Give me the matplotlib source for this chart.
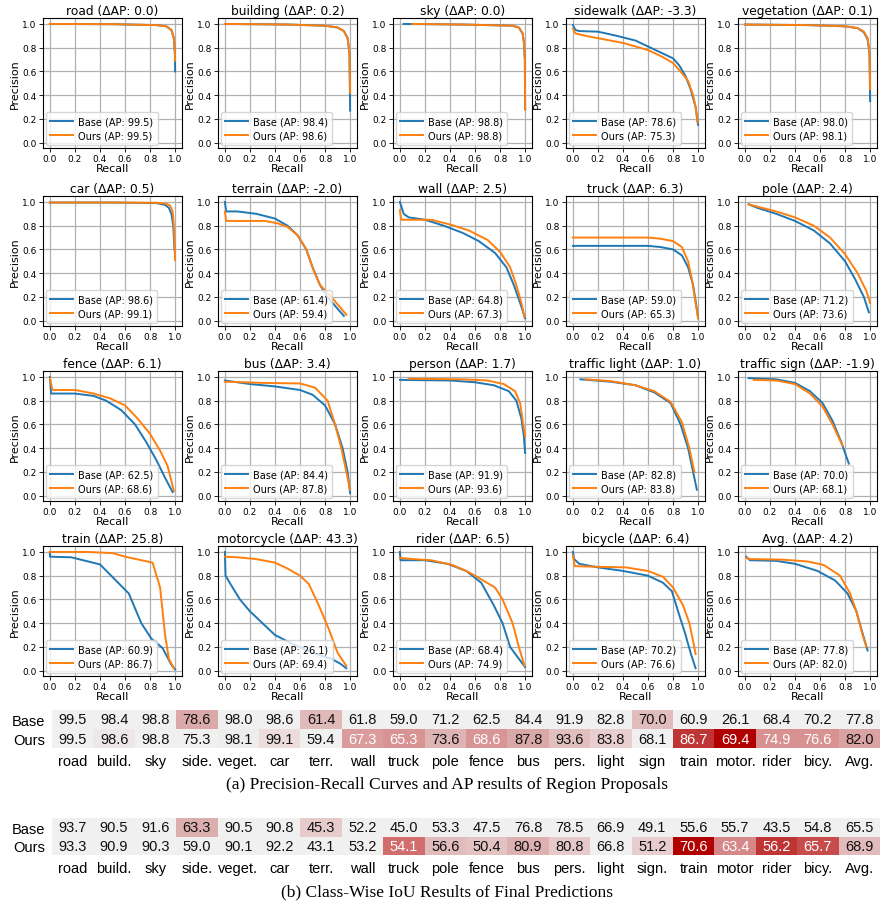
import numpy as np
import matplotlib
matplotlib.use("Agg")
import matplotlib.pyplot as plt
from matplotlib.colors import LinearSegmentedColormap

# ---- PR curves: (recall, precision) pairs ----
road_base = [(0, 1.0), (0.5, 0.998), (0.85, 0.99), (0.93, 0.98), (0.97, 0.95), (0.99, 0.88), (0.998, 0.75), (1.0, 0.6)]
road_ours = [(0, 1.0), (0.5, 0.998), (0.85, 0.99), (0.93, 0.98), (0.97, 0.95), (0.99, 0.88), (0.998, 0.77), (1.0, 0.69)]
building_base = [(0, 1.0), (0.5, 0.995), (0.8, 0.985), (0.9, 0.97), (0.95, 0.94), (0.98, 0.88), (0.995, 0.75), (1.0, 0.27)]
building_ours = [(0, 1.0), (0.5, 0.995), (0.8, 0.985), (0.9, 0.97), (0.95, 0.94), (0.98, 0.88), (0.995, 0.75), (1.0, 0.42)]
sky_base = [(0.03, 1.0), (0.5, 0.995), (0.9, 0.985), (0.95, 0.97), (0.98, 0.92), (0.99, 0.85), (0.998, 0.7), (1.0, 0.28)]
sky_ours = [(0.1, 1.0), (0.5, 0.995), (0.9, 0.985), (0.95, 0.97), (0.98, 0.92), (0.99, 0.85), (0.998, 0.7), (1.0, 0.28)]
sidewalk_base = [(0, 0.99), (0.02, 0.95), (0.05, 0.94), (0.2, 0.935), (0.35, 0.9), (0.5, 0.86), (0.6, 0.81), (0.7, 0.76), (0.8, 0.71), (0.85, 0.65), (0.9, 0.56), (0.94, 0.45), (0.98, 0.3), (1.0, 0.15)]
sidewalk_ours = [(0, 0.96), (0.02, 0.92), (0.1, 0.9), (0.2, 0.88), (0.4, 0.84), (0.6, 0.78), (0.72, 0.72), (0.8, 0.67), (0.86, 0.6), (0.92, 0.52), (0.96, 0.4), (0.98, 0.3), (0.995, 0.17)]
vegetation_base = [(0, 0.995), (0.5, 0.99), (0.8, 0.98), (0.9, 0.965), (0.95, 0.93), (0.98, 0.87), (0.995, 0.75), (1.0, 0.35)]
vegetation_ours = [(0, 0.995), (0.5, 0.99), (0.8, 0.98), (0.9, 0.965), (0.95, 0.935), (0.98, 0.88), (0.995, 0.76), (1.0, 0.45)]
car_base = [(0, 0.995), (0.5, 0.995), (0.85, 0.99), (0.92, 0.975), (0.95, 0.95), (0.97, 0.9), (0.985, 0.8), (0.995, 0.6)]
car_ours = [(0, 0.995), (0.5, 0.995), (0.85, 0.993), (0.93, 0.985), (0.96, 0.97), (0.98, 0.92), (0.99, 0.8), (1.0, 0.51)]
terrain_base = [(0, 1.0), (0.01, 0.92), (0.1, 0.92), (0.25, 0.9), (0.4, 0.86), (0.5, 0.8), (0.58, 0.72), (0.65, 0.6), (0.7, 0.45), (0.76, 0.3), (0.82, 0.2), (0.9, 0.1), (0.95, 0.04)]
terrain_ours = [(0, 0.92), (0.01, 0.84), (0.32, 0.84), (0.42, 0.82), (0.5, 0.79), (0.58, 0.72), (0.65, 0.6), (0.71, 0.42), (0.76, 0.3), (0.85, 0.2), (0.93, 0.1), (0.97, 0.05)]
wall_base = [(0, 1.0), (0.03, 0.9), (0.07, 0.87), (0.2, 0.85), (0.35, 0.8), (0.5, 0.74), (0.63, 0.67), (0.76, 0.57), (0.85, 0.45), (0.91, 0.3), (0.96, 0.15), (1.0, 0.02)]
wall_ours = [(0, 0.93), (0.01, 0.85), (0.25, 0.85), (0.4, 0.81), (0.55, 0.76), (0.7, 0.68), (0.8, 0.58), (0.88, 0.45), (0.93, 0.3), (0.97, 0.15), (0.995, 0.03)]
truck_base = [(0, 0.63), (0.6, 0.63), (0.7, 0.62), (0.8, 0.6), (0.87, 0.55), (0.92, 0.45), (0.96, 0.3), (0.99, 0.1), (1.0, 0.02)]
truck_ours = [(0, 0.7), (0.6, 0.7), (0.7, 0.69), (0.8, 0.67), (0.87, 0.62), (0.92, 0.5), (0.95, 0.35), (0.98, 0.15), (1.0, 0.02)]
pole_base = [(0.03, 0.98), (0.1, 0.95), (0.25, 0.9), (0.4, 0.84), (0.55, 0.76), (0.68, 0.65), (0.8, 0.5), (0.88, 0.35), (0.95, 0.2), (0.99, 0.07)]
pole_ours = [(0.03, 0.98), (0.1, 0.96), (0.25, 0.92), (0.4, 0.87), (0.55, 0.8), (0.68, 0.7), (0.8, 0.56), (0.9, 0.4), (0.97, 0.25), (1.0, 0.15)]
fence_base = [(0, 1.0), (0.01, 0.86), (0.2, 0.86), (0.35, 0.84), (0.45, 0.8), (0.57, 0.72), (0.68, 0.6), (0.77, 0.45), (0.85, 0.3), (0.92, 0.15), (0.98, 0.03)]
fence_ours = [(0, 0.99), (0.02, 0.89), (0.2, 0.89), (0.35, 0.86), (0.48, 0.82), (0.6, 0.76), (0.7, 0.65), (0.8, 0.52), (0.88, 0.38), (0.94, 0.25), (0.99, 0.04)]
bus_base = [(0, 0.97), (0.2, 0.94), (0.4, 0.92), (0.6, 0.89), (0.7, 0.85), (0.8, 0.76), (0.88, 0.6), (0.94, 0.4), (0.98, 0.2), (1.0, 0.02)]
bus_ours = [(0, 0.96), (0.3, 0.95), (0.6, 0.945), (0.72, 0.91), (0.82, 0.8), (0.88, 0.6), (0.93, 0.4), (0.97, 0.2), (1.0, 0.05)]
person_base = [(0, 0.975), (0.4, 0.97), (0.6, 0.955), (0.75, 0.93), (0.87, 0.88), (0.93, 0.8), (0.97, 0.65), (0.99, 0.5), (1.0, 0.36)]
person_ours = [(0.07, 0.985), (0.5, 0.98), (0.7, 0.97), (0.83, 0.94), (0.92, 0.88), (0.96, 0.78), (0.985, 0.6), (1.0, 0.5)]
light_base = [(0.06, 0.98), (0.3, 0.96), (0.5, 0.93), (0.65, 0.87), (0.78, 0.78), (0.86, 0.6), (0.92, 0.4), (0.96, 0.2), (0.99, 0.05)]
light_ours = [(0.1, 0.98), (0.3, 0.965), (0.5, 0.93), (0.65, 0.88), (0.78, 0.79), (0.87, 0.62), (0.93, 0.4), (0.97, 0.2)]
sign_base = [(0.03, 0.99), (0.25, 0.98), (0.4, 0.95), (0.52, 0.88), (0.62, 0.78), (0.7, 0.63), (0.77, 0.45), (0.83, 0.27)]
sign_ours = [(0.07, 0.975), (0.25, 0.97), (0.4, 0.94), (0.52, 0.86), (0.62, 0.75), (0.7, 0.6), (0.78, 0.42)]
train_base = [(0, 1.0), (0.001, 0.96), (0.17, 0.955), (0.4, 0.895), (0.63, 0.65), (0.73, 0.4), (0.81, 0.27), (0.9, 0.19), (0.97, 0.05), (1.0, 0.01)]
train_ours = [(0, 1.0), (0.3, 1.0), (0.5, 0.99), (0.6, 0.96), (0.82, 0.91), (0.88, 0.7), (0.92, 0.3), (0.95, 0.1), (0.99, 0.02)]
motor_base = [(0, 1.0), (0.005, 0.8), (0.05, 0.72), (0.12, 0.6), (0.2, 0.5), (0.3, 0.4), (0.4, 0.3), (0.55, 0.22), (0.7, 0.15), (0.85, 0.1), (0.92, 0.06), (0.97, 0.02)]
motor_ours = [(0, 0.96), (0.1, 0.955), (0.25, 0.94), (0.4, 0.91), (0.5, 0.86), (0.6, 0.8), (0.67, 0.73), (0.75, 0.55), (0.83, 0.35), (0.9, 0.15), (0.97, 0.04)]
rider_base = [(0, 1.0), (0.005, 0.93), (0.2, 0.93), (0.38, 0.9), (0.53, 0.84), (0.65, 0.74), (0.75, 0.55), (0.82, 0.4), (0.88, 0.2), (0.95, 0.1), (1.0, 0.03)]
rider_ours = [(0, 0.95), (0.1, 0.94), (0.25, 0.93), (0.42, 0.89), (0.55, 0.83), (0.68, 0.75), (0.76, 0.7), (0.82, 0.6), (0.9, 0.4), (0.95, 0.2), (0.995, 0.04)]
bicycle_base = [(0, 1.0), (0.01, 0.94), (0.05, 0.9), (0.2, 0.87), (0.4, 0.84), (0.6, 0.8), (0.72, 0.74), (0.79, 0.67), (0.84, 0.5), (0.9, 0.3), (0.94, 0.15), (0.98, 0.02)]
bicycle_ours = [(0, 0.97), (0.015, 0.88), (0.2, 0.875), (0.42, 0.87), (0.6, 0.84), (0.72, 0.79), (0.8, 0.7), (0.88, 0.55), (0.93, 0.4), (0.96, 0.25), (0.98, 0.14)]
avg_base = [(0.01, 0.96), (0.04, 0.93), (0.25, 0.925), (0.4, 0.9), (0.58, 0.84), (0.72, 0.76), (0.82, 0.65), (0.89, 0.5), (0.93, 0.35), (0.98, 0.17)]
avg_ours = [(0.01, 0.95), (0.04, 0.94), (0.3, 0.935), (0.5, 0.92), (0.63, 0.89), (0.76, 0.8), (0.84, 0.65), (0.89, 0.5), (0.94, 0.3), (0.97, 0.2)]

pr_names = ["road", "building", "sky", "sidewalk", "vegetation",
            "car", "terrain", "wall", "truck", "pole",
            "fence", "bus", "person", "traffic light", "traffic sign",
            "train", "motorcycle", "rider", "bicycle", "Avg."]
pr_base = [road_base, building_base, sky_base, sidewalk_base, vegetation_base,
           car_base, terrain_base, wall_base, truck_base, pole_base,
           fence_base, bus_base, person_base, light_base, sign_base,
           train_base, motor_base, rider_base, bicycle_base, avg_base]
pr_ours = [road_ours, building_ours, sky_ours, sidewalk_ours, vegetation_ours,
           car_ours, terrain_ours, wall_ours, truck_ours, pole_ours,
           fence_ours, bus_ours, person_ours, light_ours, sign_ours,
           train_ours, motor_ours, rider_ours, bicycle_ours, avg_ours]
ap_base = [99.5, 98.4, 98.8, 78.6, 98.0, 98.6, 61.4, 64.8, 59.0, 71.2,
           62.5, 84.4, 91.9, 82.8, 70.0, 60.9, 26.1, 68.4, 70.2, 77.8]
ap_ours = [99.5, 98.6, 98.8, 75.3, 98.1, 99.1, 59.4, 67.3, 65.3, 73.6,
           68.6, 87.8, 93.6, 83.8, 68.1, 86.7, 69.4, 74.9, 76.6, 82.0]
delta_ap = [0.0, 0.2, 0.0, -3.3, 0.1, 0.5, -2.0, 2.5, 6.3, 2.4,
            6.1, 3.4, 1.7, 1.0, -1.9, 25.8, 43.3, 6.5, 6.4, 4.2]

# ---- tables ----
cols_a = ["road", "build.", "sky", "side.", "veget.", "car", "terr.", "wall", "truck", "pole",
          "fence", "bus", "pers.", "light", "sign", "train", "motor.", "rider", "bicy.", "Avg."]
base_a = [99.5, 98.4, 98.8, 78.6, 98.0, 98.6, 61.4, 61.8, 59.0, 71.2,
          62.5, 84.4, 91.9, 82.8, 70.0, 60.9, 26.1, 68.4, 70.2, 77.8]
ours_a = [99.5, 98.6, 98.8, 75.3, 98.1, 99.1, 59.4, 67.3, 65.3, 73.6,
          68.6, 87.8, 93.6, 83.8, 68.1, 86.7, 69.4, 74.9, 76.6, 82.0]
cols_b = ["road", "build.", "sky", "side.", "veget.", "car", "terr.", "wall", "truck", "pole",
          "fence", "bus", "pers.", "light", "sign.", "train", "motor", "rider", "bicy.", "Avg."]
base_b = [93.7, 90.5, 91.6, 63.3, 90.5, 90.8, 45.3, 52.2, 45.0, 53.3,
          47.5, 76.8, 78.5, 66.9, 49.1, 55.6, 55.7, 43.5, 54.8, 65.5]
ours_b = [93.3, 90.9, 90.3, 59.0, 90.1, 92.2, 43.1, 53.2, 54.1, 56.6,
          50.4, 80.9, 80.8, 66.8, 51.2, 70.6, 63.4, 56.2, 65.7, 68.9]

W, H = 880, 903
fig = plt.figure(figsize=(W / 100, H / 100), dpi=100)

col_left = [43, 218, 393, 566, 738]
row_top = [19, 197, 372, 547]
aw, ah = 139, 130

for k, name in enumerate(pr_names):
    r, c = divmod(k, 5)
    ax = fig.add_axes([col_left[c] / W, 1 - (row_top[r] + ah) / H, aw / W, ah / H])
    b = np.array(pr_base[k])
    o = np.array(pr_ours[k])
    ax.plot(b[:, 0], b[:, 1], color="#1f77b4", lw=1.4, label=f"Base (AP: {ap_base[k]:.1f})", zorder=3)
    ax.plot(o[:, 0], o[:, 1], color="#ff7f0e", lw=1.4, label=f"Ours (AP: {ap_ours[k]:.1f})", zorder=3)
    ax.set_xlim(-0.055, 1.055)
    ax.set_ylim(-0.045, 1.05)
    ax.set_xticks(np.arange(0, 1.01, 0.2))
    ax.set_yticks(np.arange(0, 1.01, 0.2))
    ax.tick_params(labelsize=6.5, length=3, width=0.6, pad=1.5)
    ax.grid(True, color="#b0b0b0", lw=0.9)
    ax.set_title(f"{name} (\u0394AP: {delta_ap[k]:.1f})", fontsize=8.8, pad=3)
    ax.set_xlabel("Recall", fontsize=8, labelpad=-0.5)
    ax.set_ylabel("Precision", fontsize=8, labelpad=1.5)
    ax.legend(loc="lower left", fontsize=7.0, handlelength=2.3, borderaxespad=0.35,
              borderpad=0.4, labelspacing=0.45, handletextpad=0.6)

cmap = LinearSegmentedColormap.from_list("diff", [
    (0.0, "#f0f0f0"), (0.15, "#ead4d4"), (0.35, "#dcaeae"), (0.5, "#d99a9a"),
    (0.62, "#d47878"), (0.75, "#c85050"), (0.86, "#c03838"), (1.0, "#b00000")])


def level_a(d, dmax):
    return np.log1p(abs(d)) / np.log1p(dmax)


def level_b(d, dmax):
    if abs(d) < 2:
        return 0.0
    return (abs(d) / dmax) ** 0.85


def draw_table(top, bottom, cols, base, ours, level):
    ax = fig.add_axes([52 / W, 1 - bottom / H, 828 / W, (bottom - top) / H])
    diff = [o - b for b, o in zip(base, ours)]
    dmax = max(abs(d) for d in diff)
    vals = np.array([base, ours])
    lev = np.zeros((2, len(cols)))
    for j, d in enumerate(diff):
        t = level(d, dmax)
        if d > 0:
            lev[1, j] = t
        elif d < 0:
            lev[0, j] = t
    ax.pcolormesh(np.arange(len(cols) + 1), [0, 1, 2], lev, cmap=cmap, vmin=0, vmax=1)
    for i in range(2):
        for j in range(len(cols)):
            ax.text(j + 0.5, i + 0.5, f"{vals[i, j]:.1f}", ha="center", va="center",
                    fontsize=10.5, family="Liberation Sans",
                    color="white" if lev[i, j] > 0.47 else "#111111")
    ax.set_xlim(0, len(cols))
    ax.set_ylim(2, 0)
    ax.set_xticks(np.arange(len(cols)) + 0.5)
    ax.set_xticklabels(cols, fontsize=10.5, family="Liberation Sans")
    ax.set_yticks([0.5, 1.5])
    ax.set_yticklabels(["Base", "Ours"], fontsize=10.5, family="Liberation Sans")
    ax.tick_params(length=0, pad=4)
    ax.tick_params(axis="y", pad=5)
    for s in ax.spines.values():
        s.set_visible(False)


draw_table(711, 749, cols_a, base_a, ours_a, level_a)
draw_table(819, 856, cols_b, base_b, ours_b, level_b)

fig.text(447 / W, 1 - 785 / H, "(a) Precision-Recall Curves and AP results of Region Proposals",
         ha="center", va="center", fontsize=12.5, family="Liberation Serif")
fig.text(447 / W, 1 - 892 / H, "(b) Class-Wise IoU Results of Final Predictions",
         ha="center", va="center", fontsize=12.5, family="Liberation Serif")

fig.savefig("out.png", dpi=100)
